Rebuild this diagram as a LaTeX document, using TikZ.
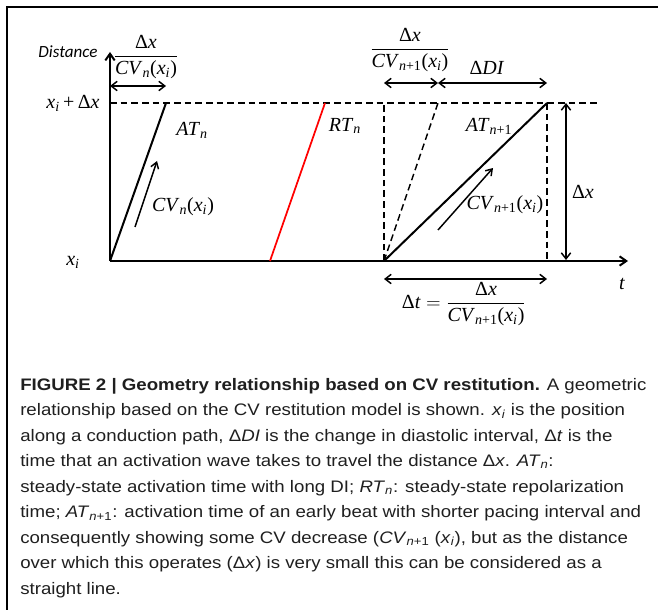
\documentclass[tikz,border=0pt]{standalone}
\usepackage{fontspec}
\setmainfont{Liberation Sans}[FakeStretch=1.12]
\newfontfamily\distfont{Carlito}
\newfontfamily\tnr{Liberation Serif}
\usetikzlibrary{arrows.meta}
\newcommand{\capvar}[2]{\textit{#1}\textsubscript{\textit{#2}}}
\newcommand{\posarg}{(\textit{x}\textsubscript{\textit{i}})}

\begin{document}
\begin{tikzpicture}[x=.75pt,y=-.75pt,
  axis/.style={line width=1.5pt,-{Straight Barb[length=5pt,width=7pt]}},
  wave/.style={line width=1.5pt},
  guide/.style={line width=1.1pt,dash pattern=on 5pt off 3pt},
  span/.style={line width=1.1pt,{Straight Barb[length=4.5pt,width=7pt]}-{Straight Barb[length=4.5pt,width=7pt]}},
  dir/.style={line width=1.1pt,-{Straight Barb[length=4.5pt,width=6pt]}},
  lbl/.style={font=\tnr\fontsize{15}{17}\selectfont,inner sep=0pt},
  capline/.style={anchor=base west,inner sep=0pt,font=\fontsize{12.5}{14}\selectfont,text=black!88}]
\useasboundingbox (0,0) rectangle (658,610);
\draw[line width=1.5pt] (658,7) -- (7,7) -- (7,610);
\coordinate (orig) at (110,261);
\coordinate (ytip) at (110,52);
\coordinate (ttip) at (628,261);
\coordinate (topl) at (110,103);
\coordinate (topr) at (600,103);
\coordinate (att) at (166,103);
\coordinate (rtb) at (270,261);
\coordinate (rtt) at (325,103);
\coordinate (nb) at (384,261);
\coordinate (nt) at (384,103);
\coordinate (ft) at (438,103);
\coordinate (st) at (547,103);
\coordinate (sb) at (547,261);
\coordinate (dxt) at (566,103);
\coordinate (dxb) at (566,260);
\coordinate (spla) at (110,86);
\coordinate (splb) at (166,86);
\coordinate (spma) at (384,83);
\coordinate (spmb) at (438,83);
\coordinate (spmc) at (547,83);
\coordinate (spba) at (384,279);
\coordinate (spbb) at (547,279);
\coordinate (cva) at (135,227);
\coordinate (cvb) at (157,161);
\coordinate (cvc) at (438,230);
\coordinate (cvd) at (493,168);
\draw[guide] (topl) -- (topr);
\draw[axis] (orig) -- (ytip);
\draw[axis] (orig) -- (ttip);
\draw[wave] (orig) -- (att);
\draw[wave,red,line width=1.3pt] (rtb) -- (rtt);
\draw[guide] (nb) -- (nt);
\draw[guide] (nb) -- (ft);
\draw[wave] (nb) -- (st);
\draw[guide] (st) -- (sb);
\draw[span] (dxt) -- (dxb);
\draw[span] (spla) -- (splb);
\draw[span] (spma) -- (spmb);
\draw[span] (spmb) -- (spmc);
\draw[span] (spba) -- (spbb);
\draw[dir] (cva) -- (cvb);
\draw[dir] (cvc) -- (cvd);
\node[font=\distfont\itshape\fontsize{12.8}{14}\selectfont,inner sep=0pt] (dist) at (68,52) {Distance};
\node[lbl] (fracn) at (146,57) {$\displaystyle\frac{\hbox{Δ\textit{x}}}{\hbox{\textit{CV}\textsubscript{\textit{n}}\posarg}}$};
\node[lbl] (fracm) at (410,50) {$\displaystyle\frac{\hbox{Δ\textit{x}}}{\hbox{\textit{CV}\textsubscript{\textit{n}+1}\posarg}}$};
\node[lbl] (ddi) at (487,68) {Δ\textit{DI}};
\node[lbl] (xtop) at (73,103) {\textit{x}\textsubscript{\textit{i}}\,+\,Δ\textit{x}};
\node[lbl] (xbot) at (73,262) {\textit{x}\textsubscript{\textit{i}}};
\node[lbl] (atn) at (192,130) {\capvar{AT}{n}};
\node[lbl] (rtn) at (345,126) {\capvar{RT}{n}};
\node[lbl] (atm) at (489,126) {\textit{AT}\textsubscript{\textit{n}+1}};
\node[lbl] (cvn) at (183,207) {\textit{CV}\textsubscript{\textit{n}}\posarg};
\node[lbl] (cvm) at (505,205) {\textit{CV}\textsubscript{\textit{n}+1}\posarg};
\node[lbl] (dx) at (583,192) {Δ\textit{x}};
\node[lbl] (tt) at (622,284) {\textit{t}};
\node[lbl] (dt) at (464,304) {$\displaystyle\hbox{Δ\textit{t}}=\frac{\hbox{Δ\textit{x}}}{\hbox{\textit{CV}\textsubscript{\textit{n}+1}\posarg}}$};
\node[capline] (cap1) at (20,390) {\textbf{FIGURE 2 | Geometry relationship based on CV restitution.} A geometric};
\node[capline] (cap2) at (20,415.5) {relationship based on the CV restitution model is shown. \capvar{x}{i} is the position};
\node[capline] (cap3) at (20,441) {along a conduction path, Δ\textit{DI} is the change in diastolic interval, Δ\textit{t} is the};
\node[capline] (cap4) at (20,466.5) {time that an activation wave takes to travel the distance Δ\textit{x}. \capvar{AT}{n}:};
\node[capline] (cap5) at (20,492) {steady-state activation time with long DI; \capvar{RT}{n}: steady-state repolarization};
\node[capline] (cap6) at (20,517.5) {time; \textit{AT}\textsubscript{\textit{n}+1}: activation time of an early beat with shorter pacing interval and};
\node[capline] (cap7) at (20,543) {consequently showing some CV decrease (\textit{CV}\textsubscript{\textit{n}+1} (\capvar{x}{i}), but as the distance};
\node[capline] (cap8) at (20,568.5) {over which this operates (Δ\textit{x}) is very small this can be considered as a};
\node[capline] (cap9) at (20,594) {straight line.};
\end{tikzpicture}
\end{document}
